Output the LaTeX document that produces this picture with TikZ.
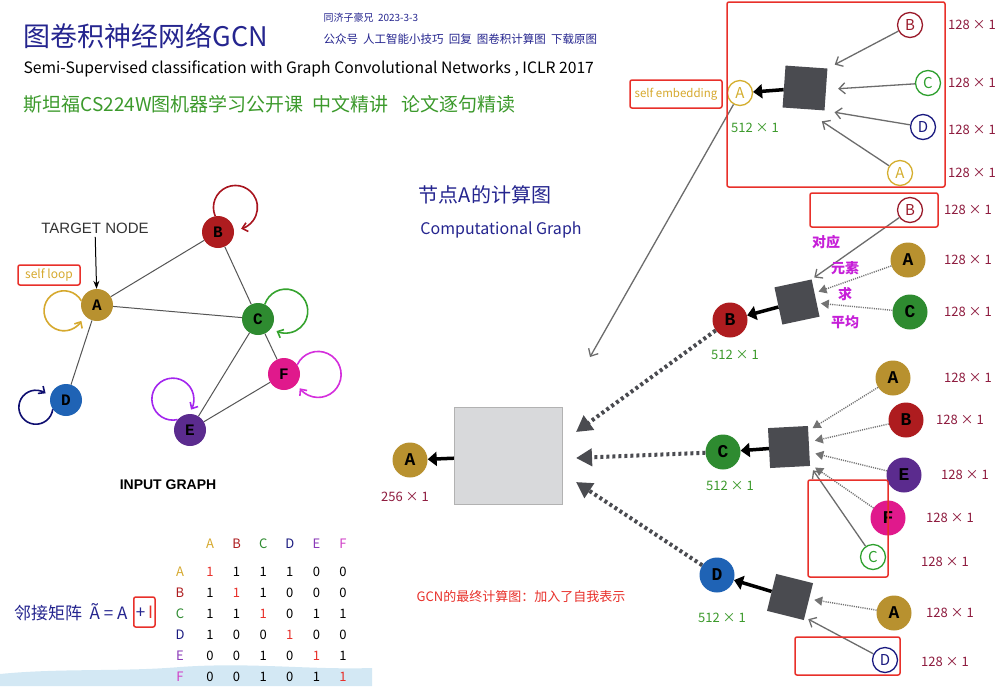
\documentclass[tikz,border=0pt]{standalone}
\usepackage{fontspec}
\setmainfont{Noto Sans CJK SC}
\newfontfamily\letterfont{Liberation Mono}
\newfontfamily\helvfont{Liberation Sans}
\usetikzlibrary{arrows.meta,positioning,calc}

\definecolor{cA}{HTML}{B8912F}
\definecolor{cB}{HTML}{AE1C1F}
\definecolor{cC}{HTML}{2E8B30}
\definecolor{cD}{HTML}{1F63B5}
\definecolor{cE}{HTML}{5B2B8E}
\definecolor{cF}{HTML}{E0198C}
\definecolor{loopA}{HTML}{D6A92E}
\definecolor{loopB}{HTML}{A8141E}
\definecolor{loopC}{HTML}{35A32E}
\definecolor{loopD}{HTML}{0E0E70}
\definecolor{loopE}{HTML}{A326EE}
\definecolor{loopF}{HTML}{D42EDC}
\definecolor{oA}{HTML}{D4AE2E}
\definecolor{oB}{HTML}{9A1A2A}
\definecolor{oC}{HTML}{2EA02E}
\definecolor{oD}{HTML}{1A1A80}
\definecolor{inknavy}{HTML}{25258F}
\definecolor{inkgreen}{HTML}{3C9A2C}
\definecolor{inkred}{HTML}{8E1B3E}
\definecolor{inkmag}{HTML}{C61FD8}
\definecolor{mE}{HTML}{8A3AB8}
\definecolor{mF}{HTML}{D040C8}
\definecolor{boxdark}{HTML}{4A4B50}
\definecolor{boxlight}{HTML}{D8D9DB}
\definecolor{framered}{HTML}{E8302A}
\definecolor{edgegray}{HTML}{555555}
\definecolor{waveblue}{HTML}{D3E8F4}

\tikzset{
  gnode/.style={circle,fill=#1,minimum size=32pt,inner sep=0pt,font=\letterfont\bfseries\fontsize{16}{16}\selectfont},
  cnode/.style={circle,fill=#1,minimum size=35pt,inner sep=0pt,font=\letterfont\bfseries\fontsize{18}{18}\selectfont},
  onode/.style={circle,draw=#1,fill=white,text=#1,line width=1.3pt,minimum size=25pt,inner sep=0pt,font=\fontsize{15}{15}\selectfont},
  aggbox/.style={fill=boxdark,minimum size=#1,inner sep=0pt},
  aggbox/.default=38pt,
  gedge/.style={draw=edgegray,line width=1pt},
  selfloop/.style={draw=#1,line width=1.6pt,-{Straight Barb[length=5pt,width=9pt]}},
  grayarrow/.style={draw=gray!85!black,line width=1.3pt,-{Straight Barb[length=6pt,width=11pt]}},
  smalldots/.style={draw=gray!90!black,line width=1.4pt,dash pattern=on 1.1pt off 1.1pt,-{Triangle[length=8pt,width=9pt]}},
  bigdots/.style={draw=boxdark,line width=4pt,dash pattern=on 3pt off 3pt,-{Triangle[length=16pt,width=17pt]}},
  blackarrow/.style={draw=black,line width=3.5pt,-{Triangle[length=9pt,width=14pt]}},
  redframe/.style={draw=framered,line width=1.5pt,rounded corners=2pt},
  dimlabel/.style={text=inkred,font=\fontsize{13}{13}\selectfont},
  embdim/.style={text=inkgreen,font=\fontsize{13}{13}\selectfont},
  magtext/.style={text=inkmag,font=\bfseries\fontsize{14}{14}\selectfont},
  cell/.style={font=\fontsize{13}{13}\selectfont},
}

\begin{document}
\begin{tikzpicture}[x=1pt,y=-1pt]
\useasboundingbox (0,0) rectangle (1000,686);
\fill[white] (0,0) rectangle (1000,686);
\fill[waveblue] (0,674) .. controls (60,668) and (120,672) .. (180,667) .. controls (250,662) and (310,670) .. (372,668) -- (372,686) -- (0,686) -- cycle;

% header
\node[anchor=west,text=inknavy,font=\fontsize{27}{27}\selectfont] (title) at (20,36) {图卷积神经网络GCN};
\node[anchor=west,text=inknavy,font=\fontsize{10}{10}\selectfont] (author) at (320,18) {同济子豪兄 \ 2023-3-3};
\node[anchor=west,text=inknavy,font=\fontsize{11.5}{11.5}\selectfont] (wechat) at (320,39) {公众号 \ 人工智能小技巧 \ 回复 \ 图卷积计算图 \ 下载原图};
\node[anchor=west,font=\fontsize{15.7}{15.7}\selectfont] (paper) at (20,69) {Semi-Supervised classification with Graph Convolutional Networks , ICLR 2017};
\node[anchor=west,text=inkgreen,font=\fontsize{19}{19}\selectfont] (course) at (20,104) {斯坦福CS224W图机器学习公开课 \ 中文精讲 \ \ 论文逐句精读};

% input graph
\node[gnode=cA] (A) at (97,305) {A};
\node[gnode=cB] (B) at (218,232) {B};
\node[gnode=cC] (C) at (258,319) {C};
\node[gnode=cD] (D) at (66,400) {D};
\node[gnode=cE] (E) at (190,430) {E};
\node[gnode=cF] (F) at (284,374) {F};
\foreach \u/\v in {A/B,A/C,A/D,B/C,C/E,C/F,E/F}
  \draw[gedge] (\u) -- (\v);

\draw[selfloop=loopA] (A.165) arc[start angle=30,end angle=330,radius=20pt];
\draw[selfloop=loopB] (B.100) arc[start angle=203,end angle=-75,radius=22pt];
\draw[selfloop=loopC] (C.65) arc[start angle=162,end angle=-115,radius=22pt];
\draw[selfloop=loopD] (D.215) arc[start angle=-7,end angle=-305,radius=17pt];
\draw[selfloop=loopE] (E.140) arc[start angle=-77,end angle=-390,radius=21pt];
\draw[selfloop=loopF] (F.35) arc[start angle=155,end angle=-143,radius=23pt];

\node[font=\helvfont\fontsize{15}{15}\selectfont,text=black!80] (target) at (95,228) {TARGET NODE};
\draw[-{Stealth[length=8pt]},line width=1pt] (target) -- (A);
\node[redframe,text=loopA,minimum width=62pt,minimum height=20pt,font=\fontsize{12}{12}\selectfont] (selfloop) at (49,275) {self loop};
\node[font=\helvfont\bfseries\fontsize{14}{14}\selectfont] (inputlbl) at (168,485) {INPUT GRAPH};

% adjacency matrix
\node[anchor=east,text=inknavy,font=\fontsize{17}{17}\selectfont] (adjname) at (131,612) {邻接矩阵 \ Ã = A};
\node[redframe,anchor=west,minimum height=30pt,inner sep=2pt,font=\fontsize{17}{17}\selectfont] (ident) at (133,612) {\textcolor{inknavy}{+}\,\textcolor{framered}{I}};
\foreach \lab/\col [count=\i] in {A/loopA,B/cB,C/cC,D/oD,E/mE,F/mF} {
  \node[cell,text=\col] (col\lab) at ({210+26.6*(\i-1)},544) {\lab};
  \node[cell,text=\col] (row\lab) at (180,{572+21*(\i-1)}) {\lab};
}
\foreach \row [count=\i] in {{1,1,1,1,0,0},{1,1,1,0,0,0},{1,1,1,0,1,1},{1,0,0,1,0,0},{0,0,1,0,1,1},{0,0,1,0,1,1}} {
  \foreach \v [count=\j] in \row {
    \ifnum\i=\j \def\cellcol{framered}\else\def\cellcol{black}\fi
    \node[cell,text=\cellcol] at ({210+26.6*(\j-1)},{572+21*(\i-1)}) {\v};
  }
}

% computational graph
\node[text=inknavy,font=\fontsize{20}{20}\selectfont] (cgtitle) at (485,195) {节点A的计算图};
\node[text=inknavy,font=\fontsize{16}{16}\selectfont] (cgsub) at (501,230) {Computational Graph};

\node[fill=boxlight,draw=gray!60,minimum width=108pt,minimum height=97pt] (gcnbox) at (508,456) {};
\node[cnode=cA] (Afin) at (410,460) {A};
\node[dimlabel] (Afindim) at (405,497) {256 × 1};
\draw[blackarrow] (gcnbox) -- (Afin);

\node[cnode=cB] (B1) at (730,320) {B};
\node[cnode=cC] (C1) at (723,452) {C};
\node[cnode=cD] (D1) at (717,575) {D};
\node[embdim] at (735,355) {512 × 1};
\node[embdim] at (730,486) {512 × 1};
\node[embdim] at (722,618) {512 × 1};
\node[aggbox,rotate=12] (boxB) at (797,302) {};
\node[aggbox=40pt,rotate=3] (boxC) at (789,447) {};
\node[aggbox,rotate=-14] (boxD) at (790,597) {};
\draw[blackarrow] (boxB) -- (B1);
\draw[blackarrow] (boxC) -- (C1);
\draw[blackarrow] (boxD) -- (D1);

\coordinate (inB) at (576,432);
\coordinate (inC) at (576,458);
\coordinate (inD) at (576,482);
\draw[bigdots] (B1) -- (inB);
\draw[bigdots] (C1) -- (inC);
\draw[bigdots] (D1) -- (inD);

% neighbours of B
\node[onode=oB] (B2b) at (910,210) {B};
\node[cnode=cA] (A2b) at (908,260) {A};
\node[cnode=cC] (C2b) at (910,312) {C};
\draw[grayarrow,shorten >=3pt] (B2b) -- (boxB.north east);
\draw[smalldots,shorten >=4pt] (A2b) -- (boxB.15);
\draw[smalldots,shorten >=4pt] (C2b) -- (boxB.-15);
\node[magtext] (avg1) at (826,242) {对应};
\node[magtext] (avg2) at (845,268) {元素};
\node[magtext] (avg3) at (845,294) {求};
\node[magtext] (avg4) at (845,322) {平均};

% neighbours of C
\node[cnode=cA] (A2c) at (893,378) {A};
\node[cnode=cB] (B2c) at (906,420) {B};
\node[cnode=cE] (E2c) at (904,475) {E};
\node[cnode=cF] (F2c) at (888,518) {F};
\node[onode=oC] (C2c) at (873,557) {C};
\draw[smalldots,shorten >=5pt] (A2c) -- (boxC.37);
\draw[smalldots,shorten >=6pt] (B2c) -- (boxC.11);
\draw[smalldots,shorten >=6pt] (E2c) -- (boxC.-17);
\draw[smalldots,shorten >=6pt] (F2c) -- (boxC.-42);
\draw[grayarrow,shorten >=5pt] (C2c) -- (boxC.south east);

% neighbours of D
\node[cnode=cA] (A2d) at (894,613) {A};
\node[onode=oD] (D2d) at (885,660) {D};
\draw[smalldots,shorten >=5pt] (A2d) -- (boxD.8);
\draw[grayarrow,shorten >=4pt] (D2d) -- (boxD.-40);

% layer of A
\node[onode=oA] (Atop) at (740,93) {A};
\node[aggbox=42pt,rotate=-4] (boxtop) at (805,88) {};
\node[onode=oB] (Btop) at (910,25) {B};
\node[onode=oC] (Ctop) at (928,83) {C};
\node[onode=oD] (Dtop) at (923,127) {D};
\node[onode=oA] (Aself) at (900,173) {A};
\draw[blackarrow] (boxtop) -- (Atop);
\draw[grayarrow,shorten >=8pt] (Btop) -- (boxtop.north east);
\draw[grayarrow,shorten >=12pt] (Ctop) -- (boxtop.east);
\draw[grayarrow,shorten >=10pt] (Dtop) -- (boxtop.south east);
\draw[grayarrow,shorten >=22pt] (Aself) -- (boxtop.south);
\node[embdim] at (755,128) {512 × 1};
\node[redframe,text=loopA,minimum width=92pt,minimum height=28pt,font=\fontsize{11.5}{11.5}\selectfont] (selfemb) at (676,94) {self embedding};
\coordinate (cgtip) at (590,357);
\draw[grayarrow] (Atop) -- (cgtip);

% dimensions
\foreach \px/\py in {972/25,972/83,972/130,972/173,968/210,968/260,968/312,968/378,960/420,965/475,950/518,945/562,950/613,945/662}
  \node[dimlabel] at (\px,\py) {128 × 1};

% red frames
\draw[redframe] (727,2) rectangle (945,187);
\draw[redframe] (810,193) rectangle (938,227);
\draw[redframe] (808,480) rectangle (888,577);
\draw[redframe] (795,637) rectangle (900,675);

\node[text=framered,font=\fontsize{13}{13}\selectfont] (gcnnote) at (521,597) {GCN的最终计算图：加入了自我表示};
\end{tikzpicture}
\end{document}
